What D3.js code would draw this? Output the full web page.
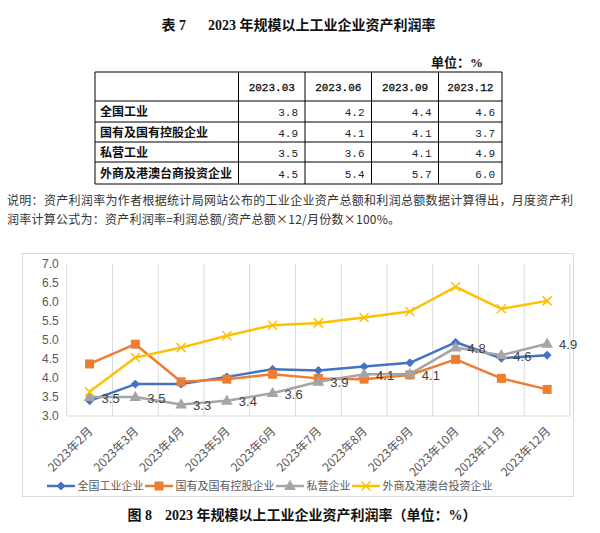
<!DOCTYPE html>
<html><head><meta charset="utf-8">
<script src="https://cdn.jsdelivr.net/npm/d3@7"></script>
<style>
body{margin:0;background:#fff;}
svg{display:block;}
</style></head>
<body>
<svg id="c" width="600" height="533"></svg>
<script>
// ---- Table data ----
const tableCols = ["2023.03", "2023.06", "2023.09", "2023.12"];
const tableRows = ["全国工业", "国有及国有控股企业", "私营工业", "外商及港澳台商投资企业"];
const tableNational = ["3.8", "4.2", "4.4", "4.6"];
const tableSoe = ["4.9", "4.1", "4.1", "3.7"];
const tablePrivate = ["3.5", "3.6", "4.1", "4.9"];
const tableForeign = ["4.5", "5.4", "5.7", "6.0"];

// ---- Chart data ----
const months = ["2023年2月","2023年3月","2023年4月","2023年5月","2023年6月","2023年7月","2023年8月","2023年9月","2023年10月","2023年11月","2023年12月"];
const national = [3.4, 3.84, 3.84, 4.03, 4.23, 4.2, 4.3, 4.4, 4.94, 4.52, 4.6];
const soe = [4.37, 4.89, 3.9, 3.97, 4.1, 3.99, 3.97, 4.08, 4.49, 3.99, 3.7];
const privateEnt = [3.5, 3.5, 3.3, 3.4, 3.6, 3.9, 4.1, 4.1, 4.8, 4.6, 4.9];
const foreign = [3.64, 4.54, 4.8, 5.11, 5.39, 5.45, 5.59, 5.75, 6.4, 5.82, 6.03];
const seriesNames = ["全国工业企业", "国有及国有控股企业", "私营企业", "外商及港澳台投资企业"];
const yTicks = [3.0, 3.5, 4.0, 4.5, 5.0, 5.5, 6.0, 6.5, 7.0];

const svg = d3.select("#c");
const cjk = "'Noto Sans CJK SC', 'Liberation Sans', sans-serif";
const serifBold = "'Liberation Serif', 'Noto Sans CJK SC', serif";
const mono = "'Liberation Mono', 'DejaVu Sans Mono', monospace";

// ---- Top title ----
svg.append("text").attr("x", 161.5).attr("y", 30).attr("font-family", serifBold).attr("font-weight", "bold")
  .attr("font-size", 14).attr("fill", "#111").text("表 7");
svg.append("text").attr("x", 208).attr("y", 30).attr("font-family", serifBold).attr("font-weight", "bold")
  .attr("font-size", 14).attr("fill", "#111").text("2023 年规模以上工业企业资产利润率");
svg.append("text").attr("x", 431).attr("y", 67).attr("font-family", serifBold).attr("font-weight", "bold")
  .attr("font-size", 13).attr("fill", "#111").text("单位：%");

// ---- Table ----
const tX = [95, 238.5, 305, 371.5, 438.5, 502];
const tY = [72, 101, 122, 142, 162, 184];
const tableVals = [tableNational, tableSoe, tablePrivate, tableForeign];
const tg = svg.append("g");
tY.forEach(y => tg.append("line").attr("x1", tX[0]).attr("x2", tX[5]).attr("y1", y).attr("y2", y)
  .attr("stroke", "#000").attr("stroke-width", 1));
tX.forEach(x => tg.append("line").attr("x1", x).attr("x2", x).attr("y1", tY[0]).attr("y2", tY[5])
  .attr("stroke", "#000").attr("stroke-width", 1));
tableCols.forEach((c, i) => {
  tg.append("text").attr("x", (tX[i+1] + tX[i+2]) / 2).attr("y", (tY[0] + tY[1]) / 2 + 4)
    .attr("text-anchor", "middle").attr("font-family", mono).attr("font-size", 11)
    .attr("fill", "#111").attr("stroke", "#111").attr("stroke-width", 0.3).text(c);
});
tableRows.forEach((r, j) => {
  const cy = (tY[j+1] + tY[j+2]) / 2 + 4.5;
  tg.append("text").attr("x", tX[0] + 5).attr("y", cy).attr("font-family", cjk).attr("font-weight", "bold")
    .attr("font-size", 12).attr("fill", "#111").text(r);
  tableVals[j].forEach((v, i) => {
    tg.append("text").attr("x", tX[i+2] - 7).attr("y", cy).attr("text-anchor", "end")
      .attr("font-family", mono).attr("font-size", 11).attr("fill", "#222").text(v);
  });
});

// ---- Note ----
svg.append("text").attr("x", 7).attr("y", 204.5).attr("font-family", cjk).attr("font-size", 12)
  .attr("fill", "#333").attr("textLength", 566).attr("lengthAdjust", "spacing")
  .text("说明：资产利润率为作者根据统计局网站公布的工业企业资产总额和利润总额数据计算得出，月度资产利");
svg.append("text").attr("x", 7).attr("y", 223.5).attr("font-family", cjk).attr("font-size", 12)
  .attr("fill", "#333").attr("textLength", 393).attr("lengthAdjust", "spacing")
  .text("润率计算公式为：资产利润率=利润总额/资产总额×12/月份数×100%。");

// ---- Chart frame ----
svg.append("rect").attr("x", 22.5).attr("y", 253.5).attr("width", 551).attr("height", 243)
  .attr("fill", "#fff").attr("stroke", "#d9d9d9").attr("stroke-width", 1);

const plot = {left: 66.7, right: 570, top: 264, bottom: 416};
const x = d3.scaleBand().domain(months).range([plot.left, plot.right]).padding(0);
const y = d3.scaleLinear().domain([3, 7]).range([plot.bottom, plot.top]);
const cx = m => x(m) + x.bandwidth() / 2;

// vertical gridlines at category boundaries
const g = svg.append("g");
const bounds = months.map(m => x(m)).concat([plot.right]);
bounds.forEach(b => g.append("line").attr("x1", b).attr("x2", b).attr("y1", plot.top).attr("y2", plot.bottom)
  .attr("stroke", "#d9d9d9").attr("stroke-width", 1));
// x axis baseline
g.append("line").attr("x1", plot.left).attr("x2", plot.right).attr("y1", plot.bottom).attr("y2", plot.bottom)
  .attr("stroke", "#d9d9d9").attr("stroke-width", 1);

// y axis labels
const yAxis = d3.axisLeft(y).tickValues(yTicks).tickFormat(d3.format(".1f")).tickSize(0).tickPadding(8);
const yg = svg.append("g").attr("transform", `translate(${plot.left},0)`).call(yAxis);
yg.select(".domain").remove();
yg.selectAll("text").attr("font-family", "'Liberation Sans', Arial, sans-serif").attr("font-size", 12).attr("fill", "#595959");

// x axis labels (rotated)
const xAxis = d3.axisBottom(x).tickSize(0).tickPadding(0);
const xg = svg.append("g").attr("transform", `translate(0,${plot.bottom})`).call(xAxis);
xg.select(".domain").remove();
xg.selectAll("text")
  .attr("font-family", cjk).attr("font-size", 12).attr("fill", "#595959")
  .attr("text-anchor", "end")
  .attr("transform", "translate(4,16) rotate(-45)")
  .attr("dy", 0).attr("y", 0).attr("x", 0);

// series
const colors = ["#4472C4", "#ED7D31", "#A5A5A5", "#FFC000"];
const data = [national, soe, privateEnt, foreign];
const line = d3.line().x((d, i) => cx(months[i])).y(d => y(d));

function marker(sel, type, color, px, py) {
  if (type === 0) {
    sel.append("path").attr("d", d3.symbol().type(d3.symbolDiamond2).size(40)()).attr("transform", `translate(${px},${py})`)
      .attr("fill", color).attr("stroke", color);
  } else if (type === 1) {
    sel.append("rect").attr("x", px - 4.5).attr("y", py - 4.5).attr("width", 9).attr("height", 9).attr("fill", color);
  } else if (type === 2) {
    sel.append("path").attr("d", d3.symbol().type(d3.symbolTriangle).size(60)()).attr("transform", `translate(${px},${py+0.5})`)
      .attr("fill", color);
  } else {
    sel.append("path").attr("d", `M${px-4.5},${py-4.5}L${px+4.5},${py+4.5}M${px-4.5},${py+4.5}L${px+4.5},${py-4.5}`)
      .attr("stroke", color).attr("stroke-width", 1.5).attr("fill", "none");
  }
}

[0, 1, 2, 3].forEach(s => {
  svg.append("path").datum(data[s]).attr("d", line).attr("fill", "none")
    .attr("stroke", colors[s]).attr("stroke-width", 2.5).attr("stroke-linejoin", "round");
  const mg = svg.append("g");
  data[s].forEach((v, i) => marker(mg, s, colors[s], cx(months[i]), y(v)));
});

// data labels on private series
privateEnt.forEach((v, i) => {
  svg.append("text").attr("x", cx(months[i]) + 12).attr("y", y(v) + 5.5)
    .attr("font-family", "'Liberation Sans', Arial, sans-serif").attr("font-size", 13).attr("fill", "#404040")
    .text(d3.format(".1f")(v));
});

// legend
const lg = svg.append("g");
let lx = 47;
const ly = 486;
seriesNames.forEach((n, s) => {
  lg.append("line").attr("x1", lx).attr("x2", lx + 28).attr("y1", ly).attr("y2", ly)
    .attr("stroke", colors[s]).attr("stroke-width", 2.5);
  marker(lg, s, colors[s], lx + 14, ly);
  const t = lg.append("text").attr("x", lx + 30.5).attr("y", ly + 4).attr("font-family", cjk)
    .attr("font-size", 11).attr("fill", "#595959").text(n);
  lx = lx + 30.5 + t.node().getComputedTextLength() + 1.5;
});

// bottom title
svg.append("text").attr("x", 127.5).attr("y", 520).attr("font-family", serifBold).attr("font-weight", "bold")
  .attr("font-size", 14).attr("fill", "#111").text("图 8");
svg.append("text").attr("x", 165).attr("y", 520).attr("font-family", serifBold).attr("font-weight", "bold")
  .attr("font-size", 14).attr("fill", "#111").text("2023 年规模以上工业企业资产利润率（单位：%）");
</script>
</body></html>
